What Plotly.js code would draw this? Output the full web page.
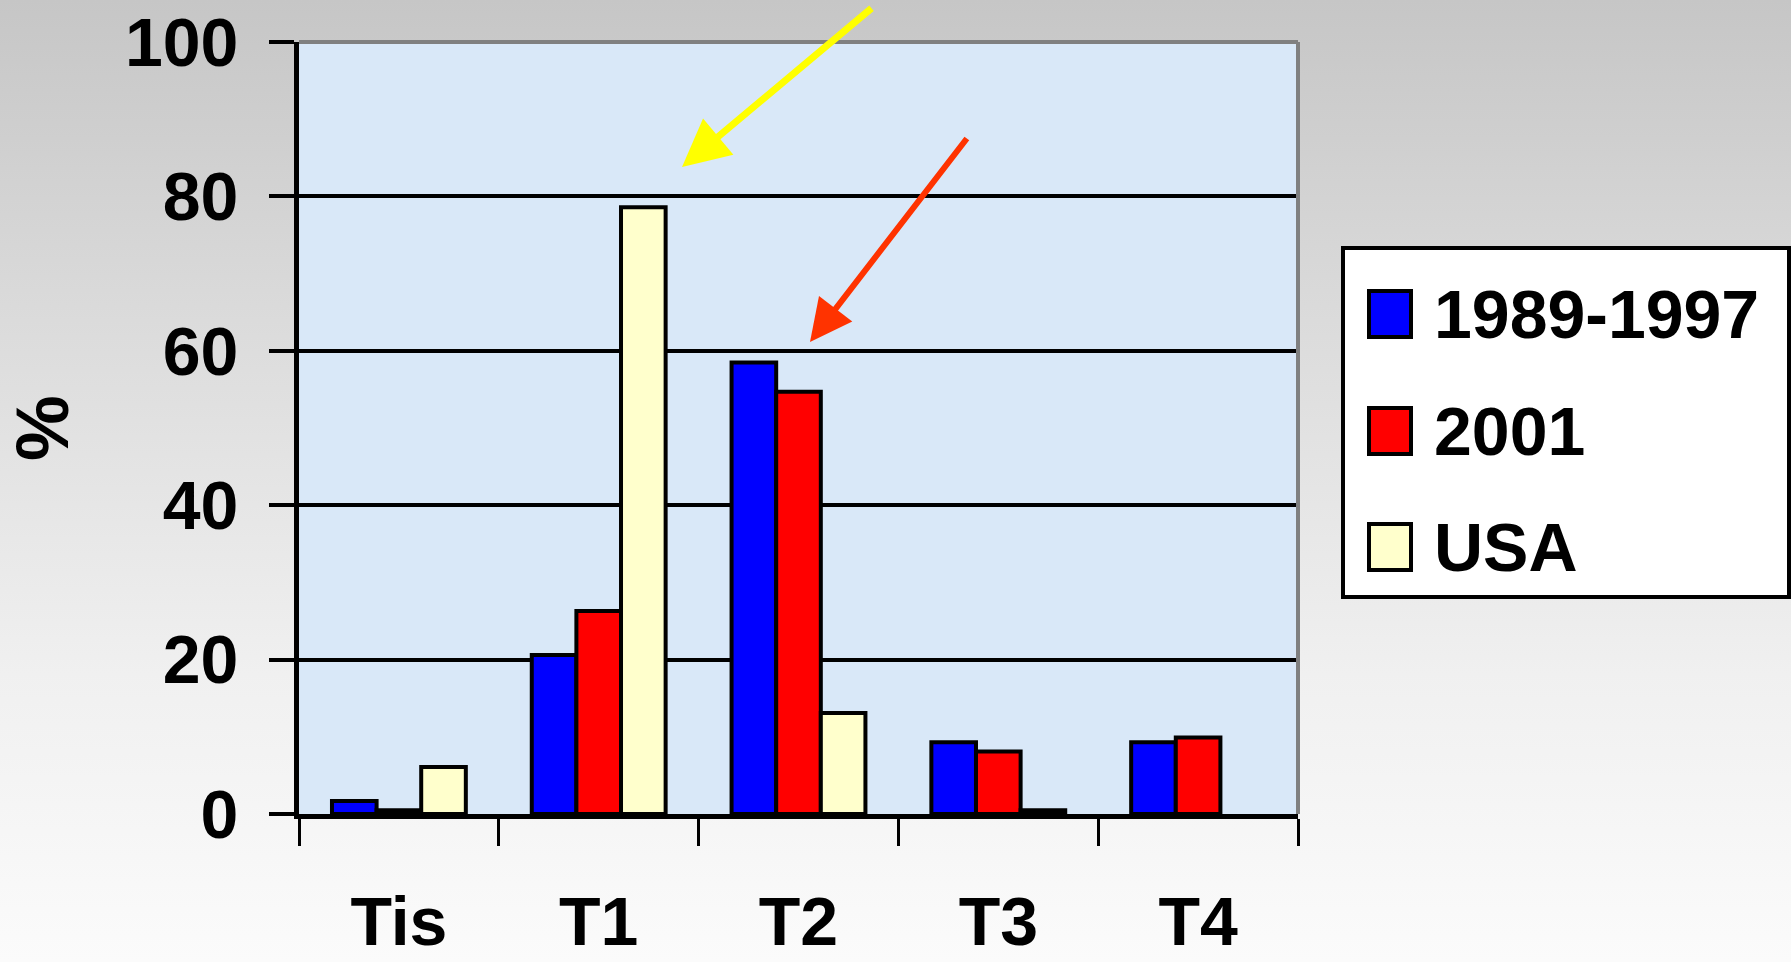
<!DOCTYPE html>
<html>
<head>
<meta charset="utf-8">
<script src="https://cdn.plot.ly/plotly-3.0.1.min.js"></script>
<style>
  html, body { margin: 0; padding: 0; width: 1791px; height: 962px; overflow: hidden;
    background: linear-gradient(to bottom, #c6c6c6 0%, #dcdcdc 35%, #f0f0f0 70%, #fbfbfb 100%); }
  #chart { width: 1791px; height: 962px; }
</style>
</head>
<body>
<div id="chart"></div>
<script>
// ---- data ----
const categories = ["Tis", "T1", "T2", "T3", "T4"];
const seriesNames = ["1989-1997", "2001", "USA"];
const values1989_1997 = [1.7, 20.6, 58.5, 9.3, 9.3];
const values2001 = [0.5, 26.3, 54.7, 8.1, 9.9];
const valuesUSA = [6.1, 78.6, 13.1, 0.5, null];
const seriesColors = ["#0000ff", "#ff0000", "#ffffcc"];
const yTickValues = [0, 20, 40, 60, 80, 100];

const FONT = "'Liberation Sans', Arial, sans-serif";
const FS = 68;
const seriesValues = [values1989_1997, values2001, valuesUSA];

const traces = seriesNames.map((name, i) => ({
  type: "bar",
  name: name,
  x: categories,
  y: seriesValues[i],
  marker: { color: seriesColors[i], line: { color: "#000000", width: 4 } },
  showlegend: false,
  hoverinfo: "x+y+name"
}));

// plot area in pixels: x 299..1298, y 42..814
const L = 299, R = 1298, T = 42, B = 814;
const W = R - L, H = B - T;
const px = v => (v - L) / W;
const py = v => (B - v) / H;

const shapes = [
  { type: "line", xref: "paper", yref: "paper", x0: 0, x1: 1, y0: 1, y1: 1, line: { color: "#808080", width: 4 }, layer: "above" },
  { type: "line", xref: "paper", yref: "paper", x0: 1, x1: 1, y0: 0, y1: 1, line: { color: "#808080", width: 4 }, layer: "above" },
  { type: "rect", xref: "paper", yref: "paper", x0: px(1343), x1: px(1789), y0: py(597), y1: py(248),
    fillcolor: "#ffffff", line: { color: "#000000", width: 4 }, layer: "below" }
];

const annotations = [
  { xref: "paper", yref: "paper", x: px(42), y: 0.5, text: "%", textangle: -90, showarrow: false,
    xanchor: "center", yanchor: "middle", font: { family: FONT, size: 74, color: "#000" } },
  { xref: "paper", yref: "paper", x: px(682), y: py(167), ax: 873 - 682, ay: 7 - 167, text: "",
    showarrow: true, arrowhead: 2, arrowsize: 1.35, arrowwidth: 7, arrowcolor: "#ffff00", standoff: 0 },
  { xref: "paper", yref: "paper", x: px(810), y: py(342), ax: 968 - 810, ay: 137 - 342, text: "",
    showarrow: true, arrowhead: 2, arrowsize: 1.4, arrowwidth: 6, arrowcolor: "#ff3300", standoff: 0 }
];

const rowCenters = [314, 431, 547];
seriesNames.forEach((name, i) => {
  shapes.push({ type: "rect", xref: "paper", yref: "paper",
    x0: px(1369), x1: px(1411), y0: py(rowCenters[i] + 23), y1: py(rowCenters[i] - 23),
    fillcolor: seriesColors[i], line: { color: "#000000", width: 4 }, layer: "above" });
  annotations.push({ xref: "paper", yref: "paper", x: px(1432), y: py(rowCenters[i]),
    text: name, showarrow: false, xanchor: "left", yanchor: "middle",
    font: { family: FONT, size: FS, color: "#000" } });
});

const layout = {
  width: 1791, height: 962,
  margin: { l: L, r: 1791 - R, t: T, b: 962 - B, pad: 0 },
  paper_bgcolor: "rgba(0,0,0,0)",
  plot_bgcolor: "#d9e8f8",
  barmode: "group",
  bargap: 0.33,
  bargroupgap: 0,
  showlegend: false,
  font: { family: FONT, color: "#000" },
  xaxis: {
    type: "category",
    tickson: "boundaries",
    ticks: "outside", ticklen: 27, tickwidth: 3, tickcolor: "#000",
    showline: true, linecolor: "#000", linewidth: 5,
    showgrid: false, zeroline: false,
    tickfont: { family: FONT, size: FS, color: "#000", weight: "bold" },
    ticklabelstandoff: 44
  },
  yaxis: {
    range: [0, 100.01],
    tickvals: yTickValues,
    ticks: "outside", ticklen: 25, tickwidth: 4, tickcolor: "#000",
    showline: true, linecolor: "#000", linewidth: 5,
    showgrid: true, gridcolor: "#000", gridwidth: 4,
    zeroline: false,
    tickfont: { family: FONT, size: FS, color: "#000", weight: "bold" },
    ticklabelstandoff: 17
  },
  shapes: shapes,
  annotations: annotations.map(a => { a.font = Object.assign({ weight: "bold" }, a.font || {}); return a; })
};

Plotly.newPlot("chart", traces, layout, { displayModeBar: false, staticPlot: true });
</script>
</body>
</html>
